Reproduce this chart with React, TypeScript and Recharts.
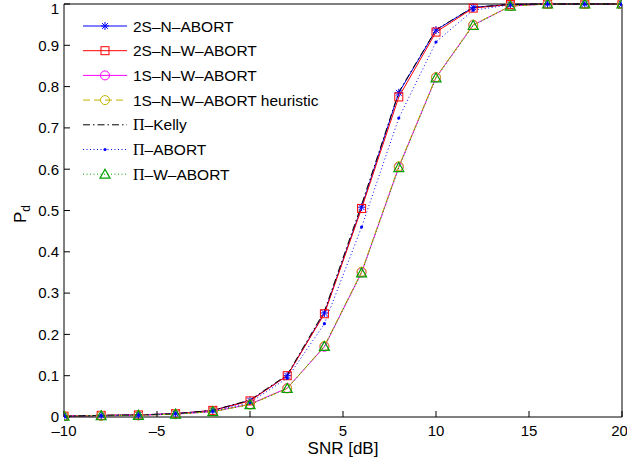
import { Label, Line, LineChart, XAxis, YAxis } from "recharts";

const snr = [-10, -8, -6, -4, -2, 0, 2, 4, 6, 8, 10, 12, 14, 16, 18, 20];

const twoSNAbort = [0.002, 0.004, 0.005, 0.008, 0.016, 0.04, 0.1, 0.252, 0.508, 0.785, 0.937, 0.992, 0.999, 1, 1, 1];
const twoSNWAbort = [0.002, 0.004, 0.005, 0.008, 0.016, 0.039, 0.1, 0.25, 0.505, 0.775, 0.932, 0.99, 0.999, 1, 1, 1];
const oneSNWAbort = [0.002, 0.003, 0.004, 0.007, 0.013, 0.031, 0.07, 0.17, 0.35, 0.605, 0.822, 0.949, 0.995, 1, 1, 1];
const oneSHeuristic = [0.002, 0.003, 0.004, 0.007, 0.013, 0.03, 0.069, 0.172, 0.352, 0.607, 0.823, 0.95, 0.995, 1, 1, 1];
const piKelly = [0.002, 0.004, 0.005, 0.008, 0.016, 0.041, 0.102, 0.256, 0.514, 0.787, 0.938, 0.992, 0.999, 1, 1, 1];
const piAbort = [0.002, 0.003, 0.005, 0.008, 0.014, 0.035, 0.094, 0.226, 0.46, 0.724, 0.908, 0.985, 0.998, 1, 1, 1];
const piWAbort = [0.002, 0.003, 0.004, 0.007, 0.013, 0.03, 0.069, 0.171, 0.349, 0.604, 0.821, 0.948, 0.995, 1, 1, 1];

const xTicks = [-10, -5, 0, 5, 10, 15, 20];
const yTicks = [0, 0.1, 0.2, 0.3, 0.4, 0.5, 0.6, 0.7, 0.8, 0.9, 1];

const rows = snr.map((x, i) => ({
  snr: x,
  a: twoSNAbort[i],
  b: twoSNWAbort[i],
  c: oneSNWAbort[i],
  d: oneSHeuristic[i],
  e: piKelly[i],
  f: piAbort[i],
  g: piWAbort[i],
}));

const FONT = "'Liberation Sans', Arial, Helvetica, sans-serif";
const YELLOW = "#c4b400";
const GREEN = "#00a000";

type MarkerKind = "star" | "square" | "circle" | "point" | "triangle" | "none";

function Marker({ kind, cx, cy, color }: { kind: MarkerKind; cx: number; cy: number; color: string }) {
  if (kind === "star") {
    const r = 4;
    const d = 2.9;
    return (
      <g stroke={color} strokeWidth={1}>
        <line x1={cx - r} y1={cy} x2={cx + r} y2={cy} />
        <line x1={cx} y1={cy - r} x2={cx} y2={cy + r} />
        <line x1={cx - d} y1={cy - d} x2={cx + d} y2={cy + d} />
        <line x1={cx - d} y1={cy + d} x2={cx + d} y2={cy - d} />
      </g>
    );
  }
  if (kind === "square") {
    return <rect x={cx - 4} y={cy - 4} width={8} height={8} fill="none" stroke={color} strokeWidth={1} />;
  }
  if (kind === "circle") {
    return <circle cx={cx} cy={cy} r={4.5} fill="none" stroke={color} strokeWidth={1} />;
  }
  if (kind === "point") {
    return <circle cx={cx} cy={cy} r={1.6} fill={color} stroke="none" />;
  }
  if (kind === "triangle") {
    return (
      <polygon
        points={`${cx},${cy - 5} ${cx - 5},${cy + 4} ${cx + 5},${cy + 4}`}
        fill="none"
        stroke={color}
        strokeWidth={1.2}
      />
    );
  }
  return null;
}

const series = [
  { key: "a", name: "2S\u2013N\u2013ABORT", color: "#0000ff", dash: undefined, marker: "star" as MarkerKind },
  { key: "b", name: "2S\u2013N\u2013W\u2013ABORT", color: "#ff0000", dash: undefined, marker: "square" as MarkerKind },
  { key: "c", name: "1S\u2013N\u2013W\u2013ABORT", color: "#ff00ff", dash: undefined, marker: "circle" as MarkerKind },
  { key: "d", name: "1S\u2013N\u2013W\u2013ABORT heuristic", color: YELLOW, dash: "7 4", marker: "circle" as MarkerKind },
  { key: "e", name: "\u2013Kelly", pi: true, color: "#000000", dash: "7 3 1.5 3", marker: "none" as MarkerKind },
  { key: "f", name: "\u2013ABORT", pi: true, color: "#0000ff", dash: "1 2.5", marker: "point" as MarkerKind },
  { key: "g", name: "\u2013W\u2013ABORT", pi: true, color: GREEN, dash: "1 2.5", marker: "triangle" as MarkerKind },
];

const fmtX = (v: number) => (v < 0 ? "\u2013" + Math.abs(v) : String(v));
const fmtY = (v: number) => String(v);

function LegendBox() {
  return (
    <svg width={330} height={190} style={{ position: "absolute", left: 80, top: 10 }}>
      {series.map((s, i) => {
        const y = 16 + i * 24.7;
        return (
          <g key={s.key}>
            <line x1={3} y1={y} x2={47} y2={y} stroke={s.color} strokeWidth={1} strokeDasharray={s.dash} />
            <Marker kind={s.marker} cx={25} cy={y} color={s.color} />
            <text x={53} y={y + 5.5} fontSize={15.5} fontFamily={FONT} fill="#000">
              {s.pi ? (
                <>
                  <tspan fontFamily="'Liberation Serif', 'DejaVu Serif', serif" fontSize={16}>
                    {"\u03A0"}
                  </tspan>
                  <tspan>{s.name}</tspan>
                </>
              ) : (
                s.name
              )}
            </text>
          </g>
        );
      })}
    </svg>
  );
}

export default function App() {
  return (
    <div style={{ position: "absolute", left: 0, top: 0, width: 627, height: 465, fontFamily: FONT, background: "#fff" }}>
      <LineChart width={627} height={465} data={rows} margin={{ top: 3, right: 4, bottom: 0, left: 0 }}>
        <XAxis
          dataKey="snr"
          type="number"
          domain={[-10, 20]}
          ticks={xTicks}
          tickFormatter={fmtX}
          height={48}
          tickSize={-6}
          tickMargin={14}
          stroke="#000"
          tick={{ fill: "#000", fontSize: 15 }}
          allowDataOverflow
        >
          <Label
            content={() => (
              <text x={343} y={454} textAnchor="middle" fontSize={17} fontFamily={FONT} fill="#000">
                SNR [dB]
              </text>
            )}
          />
        </XAxis>
        <XAxis
          xAxisId="top"
          orientation="top"
          dataKey="snr"
          type="number"
          domain={[-10, 20]}
          ticks={xTicks}
          height={1}
          tickSize={-6}
          tick={false}
          stroke="#000"
        />
        <YAxis
          type="number"
          domain={[0, 1]}
          ticks={yTicks}
          tickFormatter={fmtY}
          width={64}
          tickSize={-6}
          tickMargin={11}
          stroke="#000"
          tick={{ fill: "#000", fontSize: 15 }}
        >
          <Label
            content={() => (
              <text
                x={26}
                y={214}
                transform="rotate(-90, 26, 214)"
                textAnchor="middle"
                fontSize={17}
                fontFamily={FONT}
                fill="#000"
              >
                <tspan>P</tspan>
                <tspan fontSize={12} dy={4}>
                  d
                </tspan>
              </text>
            )}
          />
        </YAxis>
        <YAxis
          yAxisId="right"
          orientation="right"
          type="number"
          domain={[0, 1]}
          ticks={yTicks}
          width={1}
          tickSize={-6}
          tick={false}
          stroke="#000"
        />
        {series.map((s) => (
          <Line
            key={s.key}
            dataKey={s.key}
            type="linear"
            stroke={s.color}
            strokeWidth={1}
            strokeDasharray={s.dash}
            isAnimationActive={false}
            dot={(p: any) => <Marker key={`${s.key}-${p.index}`} kind={s.marker} cx={p.cx} cy={p.cy} color={s.color} />}
            activeDot={false}
          />
        ))}
      </LineChart>
      <LegendBox />
    </div>
  );
}
